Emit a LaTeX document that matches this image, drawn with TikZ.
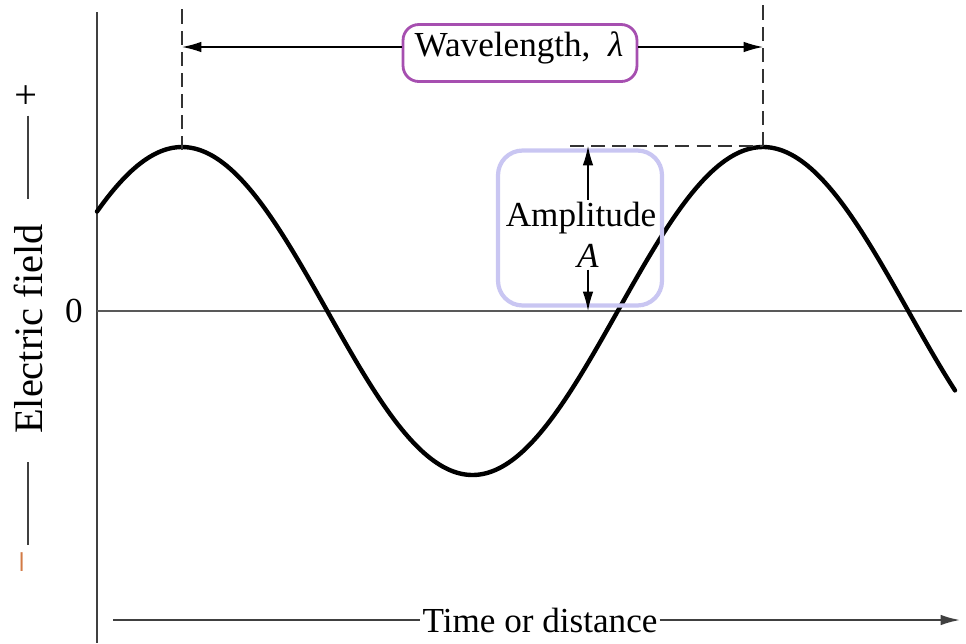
\documentclass[tikz,border=0pt]{standalone}
\usepackage{fontspec}
\setmainfont{Liberation Serif}
\usepackage{xcolor}
\usetikzlibrary{positioning,arrows.meta,calc}
\definecolor{wlpurple}{HTML}{A64FB0}
\definecolor{amplav}{HTML}{C9C6F2}
\definecolor{minusorange}{HTML}{D27A45}
\tikzset{
  axis/.style={line width=1.1pt,draw=black!75},
  zeroline/.style={line width=0.9pt,draw=black!65},
  wave/.style={line width=2.5pt,line cap=round},
  guide/.style={dash pattern=on 8pt off 4pt,line width=0.9pt,draw=black!80},
  arrow/.style={-{Latex[length=11pt,width=6pt]},line width=0.8pt},
  label/.style={font=\fontsize{20}{24}\selectfont,inner sep=1pt},
  biglabel/.style={font=\fontsize{23}{27}\selectfont,inner sep=1pt},
  wlbox/.style={draw=wlpurple,line width=1.6pt,rounded corners=9pt,fill=white,minimum width=4.68cm,minimum height=1.14cm},
  ampbox/.style={draw=amplav,line width=2.4pt,rounded corners=14pt,minimum width=3.28cm,minimum height=3.1cm}
}
\begin{document}
\begin{tikzpicture}[x=0.02cm,y=-0.02cm]
  \useasboundingbox (0,0) rectangle (966,643);

  % axes
  \coordinate (origin) at (97,311);
  \coordinate (ytop) at (97,12);
  \coordinate (ybot) at (97,643);
  \coordinate (xend) at (962,311);
  \draw[axis] (ytop) -- (ybot);
  \draw[zeroline] (origin) -- (xend);
  \node[label,left=7pt of origin] (zero) {0};

  % the wave
  \draw[wave] plot[domain=97:955,samples=150,smooth] (\x,{311-164*cos((\x-182)/581*360)});

  % wavelength
  \coordinate (peakL) at (182,150);
  \coordinate (topL) at (182,8);
  \coordinate (peakR) at (763,146);
  \coordinate (topR) at (763,4);
  \coordinate (wlmid) at (520,47);
  \draw[guide] (peakL) -- (topL);
  \draw[guide] (peakR) -- (topR);
  \node[wlbox] (wlframe) at (520,53) {};
  \node[label] (wl) at (519,48) {Wavelength,\ \ \textit{λ}};
  \draw[arrow] (wlframe.west|-wlmid) -- (peakL|-wlmid);
  \draw[arrow] (wlframe.east|-wlmid) -- (peakR|-wlmid);

  % amplitude
  \coordinate (dashL) at (570,146);
  \coordinate (ampTop) at (588,146);
  \coordinate (ampBot) at (588,311);
  \draw[guide] (dashL) -- (peakR);
  \node[ampbox] (ampframe) at (580,228) {};
  \node[label] (amp) at (581,218) {Amplitude};
  \node[label] (ampA) at (588,256) {\textit{A}};
  \draw[arrow] (ampTop|-amp.north) -- (ampTop);
  \draw[arrow] (ampA.south) -- (ampBot);

  % vertical label
  \node[biglabel,rotate=90] (efield) at (28,329) {Electric field};
  \node[biglabel,rotate=90] (plus) at (28,95) {+};
  \node[biglabel,rotate=90,text=minusorange] (minus) at (28,562) {−};
  \draw[axis,shorten <=4pt,shorten >=13pt] (plus) -- (efield);
  \draw[axis,shorten <=15pt,shorten >=2pt] (efield) -- (minus);

  % horizontal label
  \coordinate (tstart) at (113,620);
  \coordinate (tend) at (960,620);
  \node[label] (time) at (540,620) {Time or distance};
  \draw[axis] (tstart) -- (time);
  \draw[arrow,line width=1.1pt,draw=black!75] (time) -- (tend);
\end{tikzpicture}
\end{document}
